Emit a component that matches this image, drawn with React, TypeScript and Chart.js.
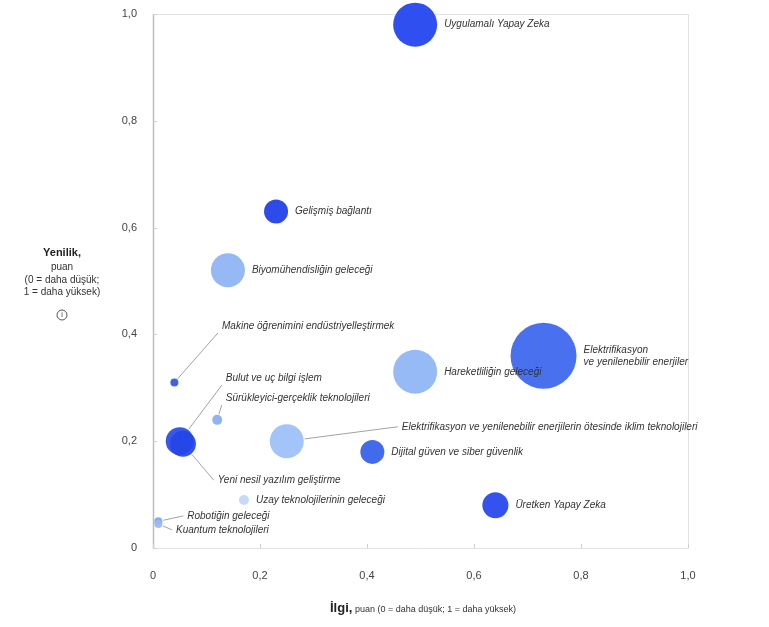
import React, { useEffect, useRef } from 'react';
import { Chart, registerables } from 'chart.js';

Chart.register(...registerables);

// ---- Data ----
const names: string[] = [
  'Uygulamalı Yapay Zeka',
  'Gelişmiş bağlantı',
  'Biyomühendisliğin geleceği',
  'Makine öğrenimini endüstriyelleştirmek',
  'Elektrifikasyon\nve yenilenebilir enerjiler',
  'Hareketliliğin geleceği',
  'Bulut ve uç bilgi işlem',
  'Yeni nesil yazılım geliştirme',
  'Sürükleyici-gerçeklik teknolojileri',
  'Elektrifikasyon ve yenilenebilir enerjilerin ötesinde iklim teknolojileri',
  'Dijital güven ve siber güvenlik',
  'Üretken Yapay Zeka',
  'Uzay teknolojilerinin geleceği',
  'Robotiğin geleceği',
  'Kuantum teknolojileri',
];
const interest: number[] = [0.49, 0.23, 0.14, 0.04, 0.73, 0.49, 0.05, 0.056, 0.12, 0.25, 0.41, 0.64, 0.17, 0.01, 0.01];
const novelty: number[] = [0.98, 0.63, 0.52, 0.31, 0.36, 0.33, 0.2, 0.195, 0.24, 0.2, 0.18, 0.08, 0.09, 0.05, 0.045];
const bubbleSize: number[] = [22, 12, 17, 4, 33, 22, 14, 13, 5, 17, 12, 13, 5, 4, 4];
const bubbleColor: string[] = [
  '#2142f0', '#1f3ee8', '#8fb3f3', '#3357e0', '#3c66ee', '#8db5f5', '#2a4ce8', '#2547e6',
  '#8aaef2', '#9bc0f7', '#3560ea', '#2646ec', '#c3d6f8', '#7ea6f0', '#9ab9f4',
];
// Label anchor for callout labels (null = label placed right of the bubble)
const labelAtX: (number | null)[] = [null, null, null, 0.129, null, null, 0.136, 0.121, 0.136, 0.465, null, null, null, 0.064, 0.043];
const labelAtY: (number | null)[] = [null, null, null, 0.416, null, null, 0.318, 0.127, 0.281, 0.227, null, null, null, 0.06, 0.034];

const xTickLabels: string[] = ['0', '0,2', '0,4', '0,6', '0,8', '1,0'];
const yTickLabels: string[] = ['0', '0,2', '0,4', '0,6', '0,8', '1,0'];

const FONT = '"Liberation Sans", Arial, Helvetica, sans-serif';

const decorPlugin = {
  id: 'decor',
  beforeDatasetsDraw(chart: any) {
    const { ctx, chartArea: a, scales } = chart;
    ctx.save();
    ctx.strokeStyle = '#e2e2e2';
    ctx.lineWidth = 1;
    ctx.beginPath();
    ctx.moveTo(a.left, a.top + 0.5);
    ctx.lineTo(a.right + 0.5, a.top + 0.5);
    ctx.lineTo(a.right + 0.5, a.bottom + 0.5);
    ctx.lineTo(a.left, a.bottom + 0.5);
    ctx.stroke();
    ctx.strokeStyle = '#bdbdbd';
    ctx.lineWidth = 1.5;
    ctx.beginPath();
    ctx.moveTo(a.left + 0.5, a.top);
    ctx.lineTo(a.left + 0.5, a.bottom + 0.5);
    ctx.stroke();
    // small inner tick marks
    ctx.strokeStyle = '#d0d0d0';
    ctx.lineWidth = 1;
    scales.y.ticks.forEach((t: any) => {
      const y = Math.round(scales.y.getPixelForValue(t.value)) + 0.5;
      ctx.beginPath();
      ctx.moveTo(a.left, y);
      ctx.lineTo(a.left + 4, y);
      ctx.stroke();
    });
    scales.x.ticks.forEach((t: any) => {
      const x = Math.round(scales.x.getPixelForValue(t.value)) + 0.5;
      ctx.beginPath();
      ctx.moveTo(x, a.bottom);
      ctx.lineTo(x, a.bottom - 4);
      ctx.stroke();
    });
    ctx.restore();
  },
  afterDatasetsDraw(chart: any) {
    const { ctx, scales } = chart;
    const meta = chart.getDatasetMeta(0);
    ctx.save();
    ctx.font = `italic 10px ${FONT}`;
    ctx.fillStyle = '#333';
    ctx.textBaseline = 'middle';
    ctx.textAlign = 'left';
    names.forEach((name, i) => {
      const el = meta.data[i];
      const px = el.x;
      const py = el.y;
      const r = bubbleSize[i];
      const lines = name.split('\n');
      let tx: number;
      let ty: number;
      if (labelAtX[i] === null) {
        tx = px + r + 7;
        ty = py;
      } else {
        tx = scales.x.getPixelForValue(labelAtX[i] as number);
        ty = scales.y.getPixelForValue(labelAtY[i] as number);
        const ex = tx - 4;
        const ey = ty < py - 20 ? ty + 7 : ty;
        const dx = ex - px;
        const dy = ey - py;
        const d = Math.sqrt(dx * dx + dy * dy) || 1;
        ctx.strokeStyle = '#8a8a8a';
        ctx.lineWidth = 0.8;
        ctx.beginPath();
        ctx.moveTo(px + (dx / d) * (r + 1), py + (dy / d) * (r + 1));
        ctx.lineTo(ex, ey);
        ctx.stroke();
      }
      const lh = 12;
      const start = ty - ((lines.length - 1) * lh) / 2;
      lines.forEach((ln, k) => ctx.fillText(ln, tx, start + k * lh));
    });
    ctx.restore();
  },
  afterDraw(chart: any) {
    const { ctx } = chart;
    ctx.save();
    ctx.fillStyle = '#222';
    ctx.textAlign = 'center';
    ctx.textBaseline = 'middle';
    const cx = 62;
    ctx.font = `bold 11px ${FONT}`;
    ctx.fillText('Yenilik,', cx, 253);
    ctx.font = `10px ${FONT}`;
    ctx.fillStyle = '#333';
    ctx.fillText('puan', cx, 267);
    ctx.fillText('(0 = daha düşük;', cx, 280);
    ctx.fillText('1 = daha yüksek)', cx, 292);
    ctx.strokeStyle = '#555';
    ctx.lineWidth = 1;
    ctx.beginPath();
    ctx.arc(cx, 315, 5, 0, Math.PI * 2);
    ctx.stroke();
    ctx.font = `7px ${FONT}`;
    ctx.fillText('i', cx, 315.5);

    // x title
    const bold = 'İlgi,';
    const rest = ' puan (0 = daha düşük; 1 = daha yüksek)';
    ctx.font = `bold 13px ${FONT}`;
    const w1 = ctx.measureText(bold).width;
    ctx.font = `9px ${FONT}`;
    const w2 = ctx.measureText(rest).width;
    const x0 = 423 - (w1 + w2) / 2;
    ctx.textAlign = 'left';
    ctx.textBaseline = 'alphabetic';
    ctx.fillStyle = '#222';
    ctx.font = `bold 13px ${FONT}`;
    ctx.fillText(bold, x0, 612);
    ctx.fillStyle = '#333';
    ctx.font = `9px ${FONT}`;
    ctx.fillText(rest, x0 + w1, 612);
    ctx.restore();
  },
};

export default function App() {
  const ref = useRef<HTMLCanvasElement | null>(null);
  useEffect(() => {
    if (!ref.current) return;
    const points = interest.map((x, i) => ({ x, y: novelty[i], r: bubbleSize[i] }));
    const chart = new Chart(ref.current, {
      type: 'bubble',
      data: {
        datasets: [
          {
            data: points,
            backgroundColor: bubbleColor.map((c) => c + 'ee'),
            borderColor: bubbleColor,
            borderWidth: 0,
            clip: false as any,
          },
        ],
      },
      options: {
        animation: false,
        responsive: true,
        maintainAspectRatio: false,
        layout: { autoPadding: false, padding: { top: 14, right: 81, left: 0, bottom: 0 } },
        plugins: { legend: { display: false }, tooltip: { enabled: false } },
        scales: {
          x: {
            type: 'linear',
            min: 0,
            max: 1,
            grid: { display: false, drawTicks: false },
            border: { display: false },
            ticks: {
              stepSize: 0.2,
              padding: 21,
              color: '#444',
              font: { family: FONT, size: 11 },
              callback: (_v: any, i: number) => xTickLabels[i],
            },
            afterFit: (s: any) => {
              s.height = 79;
              s.paddingLeft = 0;
              s.paddingRight = 0;
            },
          },
          y: {
            type: 'linear',
            min: 0,
            max: 1,
            grid: { display: false, drawTicks: false },
            border: { display: false },
            ticks: {
              stepSize: 0.2,
              padding: 16,
              color: '#444',
              font: { family: FONT, size: 11 },
              callback: (_v: any, i: number) => yTickLabels[i],
            },
            afterFit: (s: any) => {
              s.width = 153;
              s.paddingTop = 0;
              s.paddingBottom = 0;
            },
          },
        },
      },
      plugins: [decorPlugin],
    });
    return () => chart.destroy();
  }, []);
  return (
    <div style={{ position: 'fixed', left: 0, top: 0, width: 769, height: 627, background: '#fff' }}>
      <canvas ref={ref} />
    </div>
  );
}
